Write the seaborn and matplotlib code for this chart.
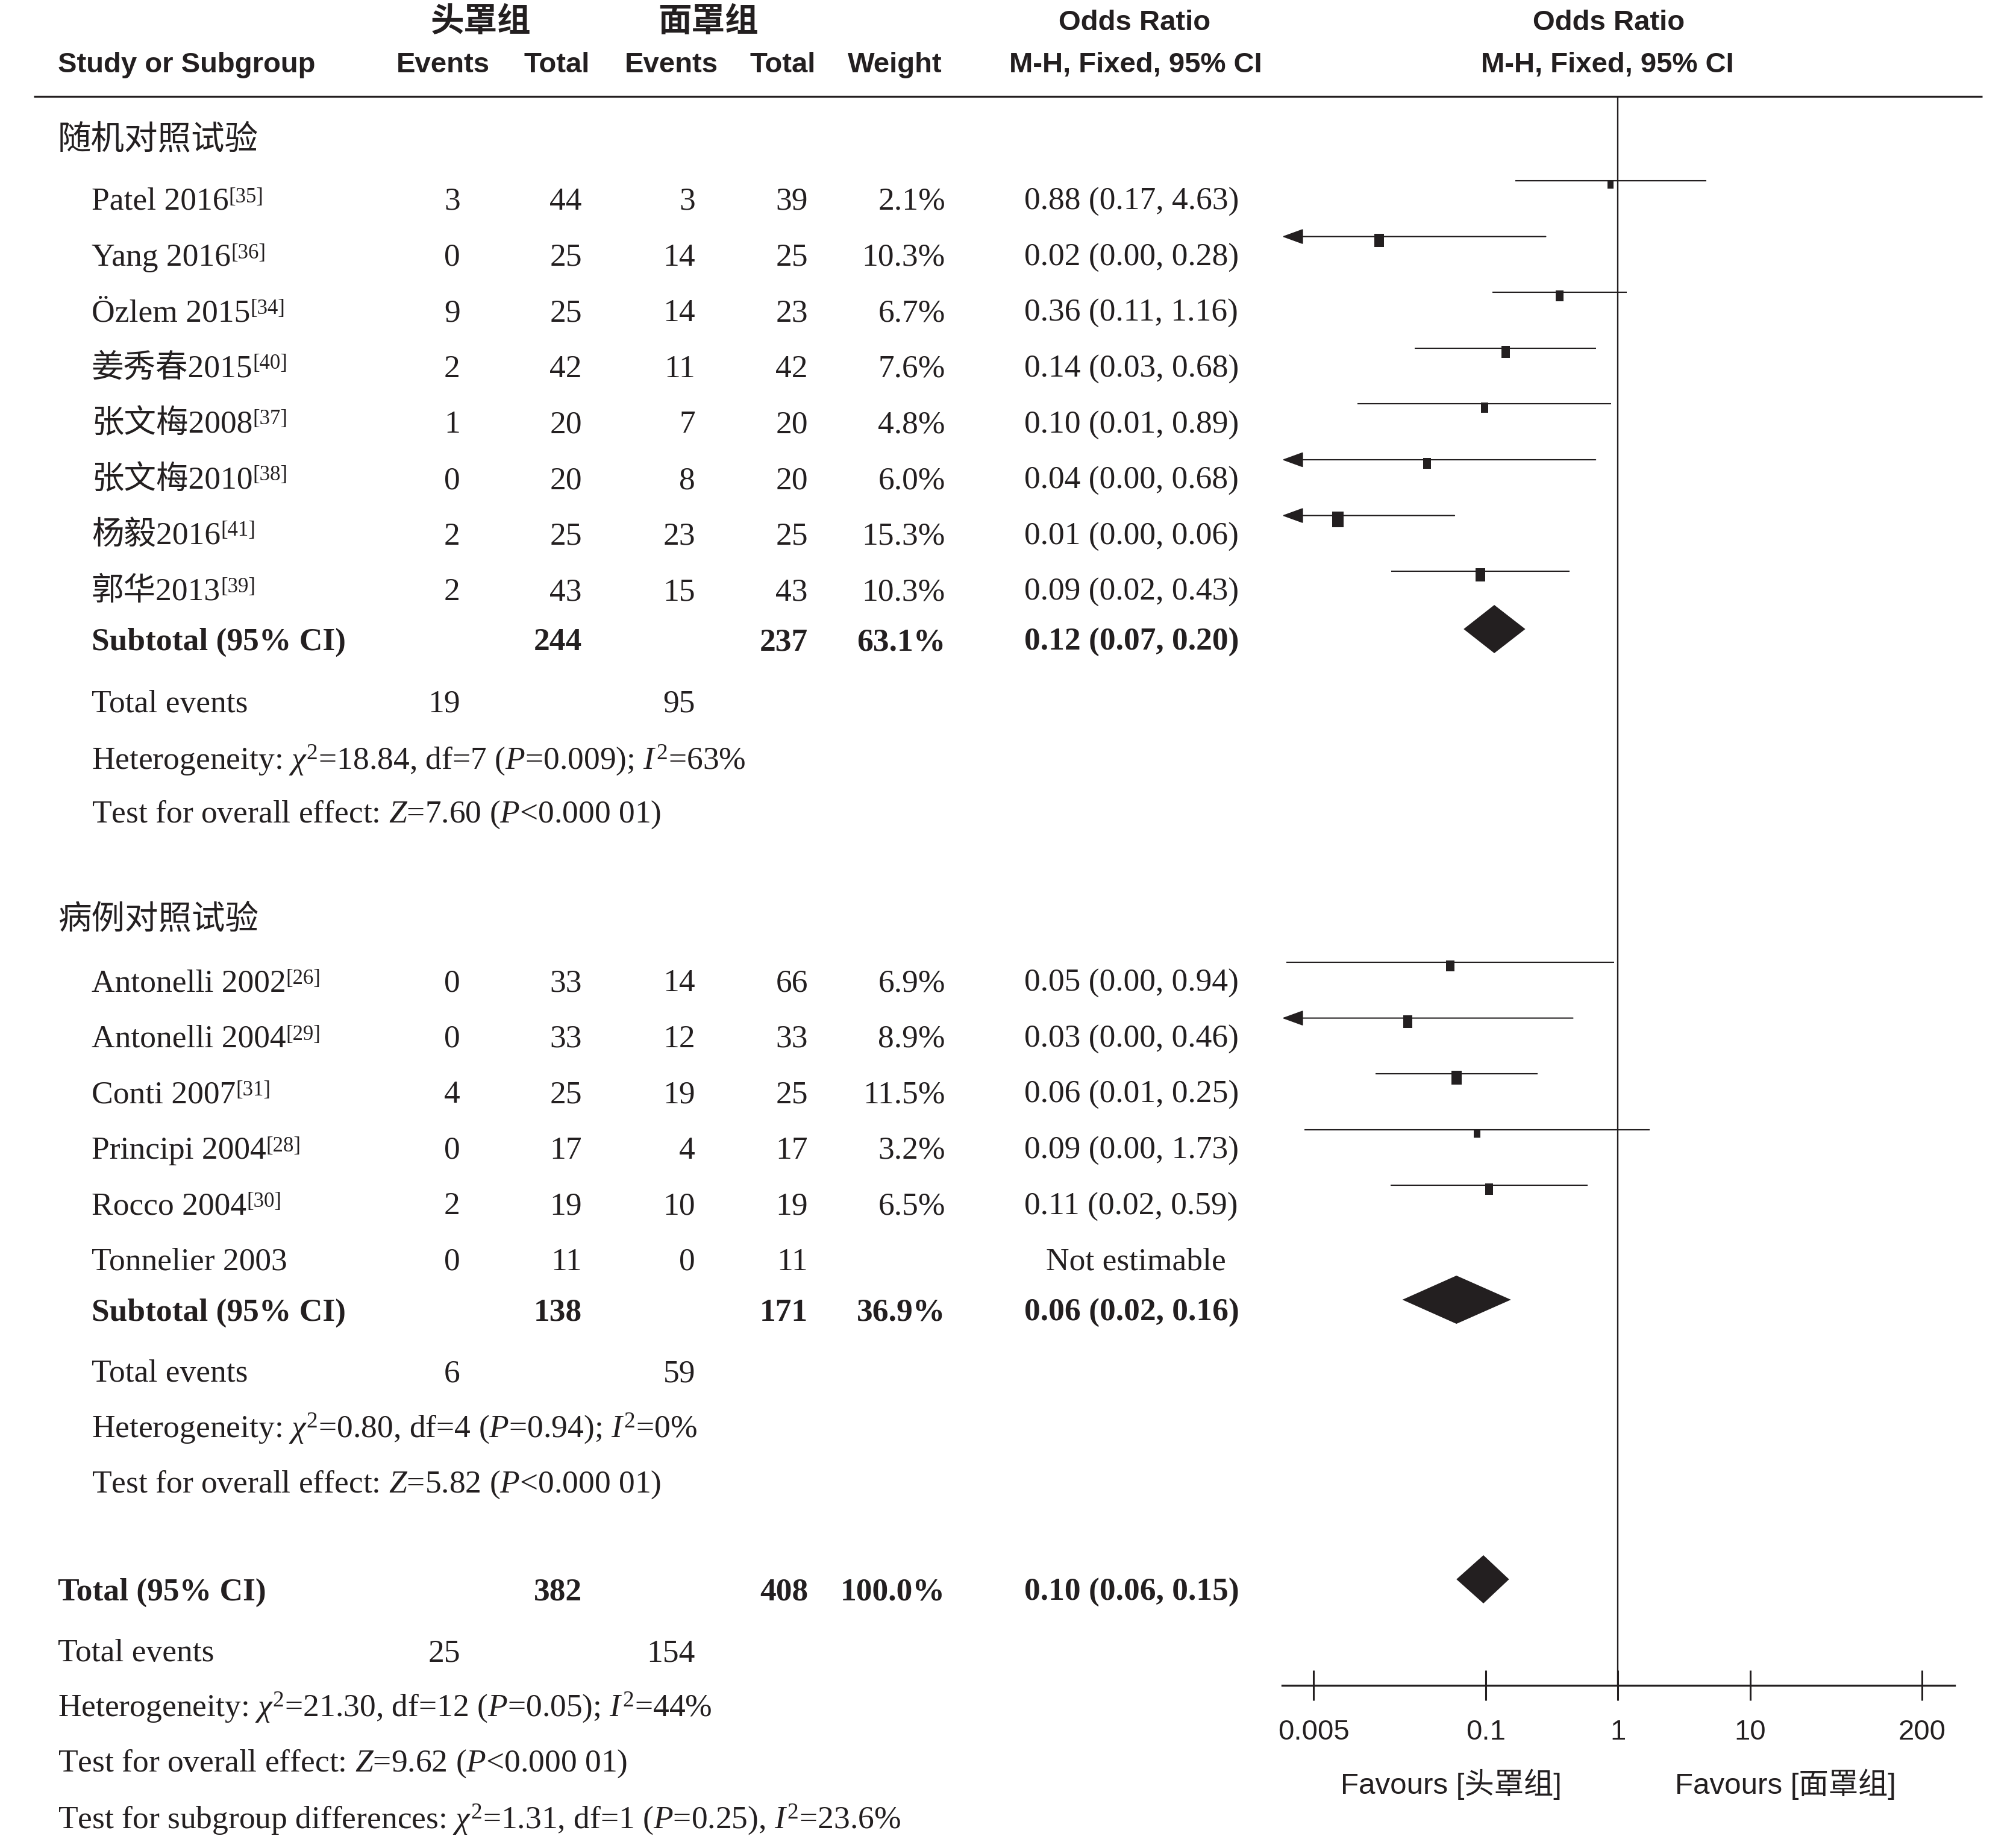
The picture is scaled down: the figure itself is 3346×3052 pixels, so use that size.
import numpy as np
import pandas as pd
import matplotlib
matplotlib.use('Agg')
import matplotlib.pyplot as plt
from matplotlib import font_manager
from matplotlib.path import Path
import seaborn as sns

# ---------------- data ----------------
# subgroup 1: randomised controlled trials
studies_rct = ['Patel 2016', 'Yang 2016', 'Özlem 2015', '姜秀春2015',
               '张文梅2008', '张文梅2010', '杨毅2016', '郭华2013']
refs_rct = ['[35]', '[36]', '[34]', '[40]', '[37]', '[38]', '[41]', '[39]']
ev_helmet_rct = [3, 0, 9, 2, 1, 0, 2, 2]
n_helmet_rct = [44, 25, 25, 42, 20, 20, 25, 43]
ev_mask_rct = [3, 14, 14, 11, 7, 8, 23, 15]
n_mask_rct = [39, 25, 23, 42, 20, 20, 25, 43]
weight_rct = [2.1, 10.3, 6.7, 7.6, 4.8, 6.0, 15.3, 10.3]
or_text_rct = ['0.88 (0.17, 4.63)', '0.02 (0.00, 0.28)', '0.36 (0.11, 1.16)',
               '0.14 (0.03, 0.68)', '0.10 (0.01, 0.89)', '0.04 (0.00, 0.68)',
               '0.01 (0.00, 0.06)', '0.09 (0.02, 0.43)']
or_rct = [0.878, 0.0156, 0.362, 0.141, 0.098, 0.036, 0.0076, 0.091]
lo_rct = [0.167, 0.00085, 0.112, 0.029, 0.0107, 0.0019, 0.00098, 0.0193]
hi_rct = [4.63, 0.284, 1.165, 0.682, 0.891, 0.677, 0.058, 0.430]

# subgroup 2: case-control studies
studies_cc = ['Antonelli 2002', 'Antonelli 2004', 'Conti 2007',
              'Principi 2004', 'Rocco 2004', 'Tonnelier 2003']
refs_cc = ['[26]', '[29]', '[31]', '[28]', '[30]', '']
ev_helmet_cc = [0, 0, 4, 0, 2, 0]
n_helmet_cc = [33, 33, 25, 17, 19, 11]
ev_mask_cc = [14, 12, 19, 4, 10, 0]
n_mask_cc = [66, 33, 25, 17, 19, 11]
weight_cc = [6.9, 8.9, 11.5, 3.2, 6.5, np.nan]
or_text_cc = ['0.05 (0.00, 0.94)', '0.03 (0.00, 0.46)', '0.06 (0.01, 0.25)',
              '0.09 (0.00, 1.73)', '0.11 (0.02, 0.59)', 'Not estimable']
or_cc = [0.054, 0.0257, 0.060, 0.0857, 0.106, np.nan]
lo_cc = [0.00312, 0.00144, 0.0147, 0.00424, 0.019, np.nan]
hi_cc = [0.936, 0.456, 0.246, 1.733, 0.591, np.nan]

# pooled rows: subgroup 1, subgroup 2, overall
pooled_n_helmet = [244, 138, 382]
pooled_n_mask = [237, 171, 408]
pooled_weight = ['63.1%', '36.9%', '100.0%']
pooled_text = ['0.12 (0.07, 0.20)', '0.06 (0.02, 0.16)', '0.10 (0.06, 0.15)']
pooled_or = [0.116, 0.060, 0.096]
pooled_lo = [0.068, 0.0234, 0.060]
pooled_hi = [0.199, 0.155, 0.150]
total_ev_helmet = [19, 6, 25]
total_ev_mask = [95, 59, 154]
het_text = [r'Heterogeneity: $\chi^2$=18.84, df=7 ($P$=0.009); $I^2$=63%',
            r'Heterogeneity: $\chi^2$=0.80, df=4 ($P$=0.94); $I^2$=0%',
            r'Heterogeneity: $\chi^2$=21.30, df=12 ($P$=0.05); $I^2$=44%']
effect_text = [r'Test for overall effect: $Z$=7.60 ($P$<0.000 01)',
               r'Test for overall effect: $Z$=5.82 ($P$<0.000 01)',
               r'Test for overall effect: $Z$=9.62 ($P$<0.000 01)']
subgroup_text = r'Test for subgroup differences: $\chi^2$=1.31, df=1 ($P$=0.25), $I^2$=23.6%'

group_titles = ['随机对照试验', '病例对照试验']
tick_vals = [0.005, 0.1, 1, 10, 200]
tick_labels = ['0.005', '0.1', '1', '10', '200']
favours = ['Favours [头罩组]', 'Favours [面罩组]']

# ---------------- style ----------------
sns.set_theme(style='white')
names = {f.name for f in font_manager.fontManager.ttflist}
NARROW = 'Liberation Sans Narrow' in names
SANS = ['Liberation Sans Narrow' if NARROW else 'Liberation Sans', 'Noto Sans CJK SC']
SERIF = ['Liberation Serif', 'Noto Sans CJK SC']
plt.rcParams['font.family'] = SERIF
plt.rcParams['mathtext.fontset'] = 'custom'
plt.rcParams['mathtext.rm'] = 'Liberation Serif'
plt.rcParams['mathtext.it'] = 'Liberation Serif:italic'
plt.rcParams['mathtext.bf'] = 'Liberation Serif:bold'

INK = '#231f20'
BODY = 38.5
SUP = 25
HEAD = 40 if NARROW else 34
CJK_HEAD = 40
TICK = 40 if NARROW else 34
FAV = 40 if NARROW else 35.5

W, H = 3346, 3052
fig = plt.figure(figsize=(W / 100, H / 100), dpi=100)
ax_t = fig.add_axes([0, 0, 1, 1])
ax_t.set_xlim(0, W)
ax_t.set_ylim(H, 0)
ax_t.axis('off')

# column anchors (pixels)
X_GROUP, X_NAME = 96, 152
X_EV1, X_N1, X_EV2, X_N2, X_W = 764, 966, 1154, 1341, 1569
X_OR, X_OR_C = 1700, 1885
STEP = 92.6


def put(x, y, s, ha='left', bold=False, size=BODY, fam=SERIF):
    return ax_t.text(x, y, s, ha=ha, va='baseline', fontsize=size,
                     fontweight='bold' if bold else 'normal', family=fam, color=INK)


# header
put(798, 52, '头罩组', 'center', True, CJK_HEAD, ['Noto Sans CJK SC'])
put(1175, 52, '面罩组', 'center', True, CJK_HEAD, ['Noto Sans CJK SC'])
put(1883, 50, 'Odds Ratio', 'center', True, HEAD, SANS)
put(2670, 50, 'Odds Ratio', 'center', True, HEAD, SANS)
put(X_GROUP, 120, 'Study or Subgroup', 'left', True, HEAD, SANS)
for xc, s in [(735, 'Events'), (924, 'Total'), (1114, 'Events'), (1299, 'Total'),
              (1485, 'Weight'), (1885, 'M-H, Fixed, 95% CI'), (2668, 'M-H, Fixed, 95% CI')]:
    put(xc, 120, s, 'center', True, HEAD, SANS)
ax_t.plot([56, 3290], [160, 160], color=INK, lw=2.4, solid_capstyle='butt')

# forest axes, y in the same pixel units as the text layer
X0, X1, YT, YB = 2128, 3244, 160, 2797
ax = fig.add_axes([X0 / W, 1 - YB / H, (X1 - X0) / W, (YB - YT) / H])
ax.patch.set_alpha(0)
ax.set_xscale('log')
XMIN, XMAX = 10 ** -2.54, 10 ** 2.545
ax.set_xlim(XMIN, XMAX)
ax.set_ylim(YB, YT)
ax.axvline(1, color=INK, lw=1.7)

groups = [
    (studies_rct, refs_rct, ev_helmet_rct, n_helmet_rct, ev_mask_rct, n_mask_rct,
     weight_rct, or_text_rct, or_rct, lo_rct, hi_rct),
    (studies_cc, refs_cc, ev_helmet_cc, n_helmet_cc, ev_mask_cc, n_mask_cc,
     weight_cc, or_text_cc, or_cc, lo_cc, hi_cc),
]
y_title = [248, 1542]
y_first = [348, 1645]
y_sub = [1079, 2192]
y_te = [1182, 2293]
y_het = [1276, 2385]
y_eff = [1365, 2477]

square_rows = []
for g, (st, rf, e1, n1, e2, n2, wt, ortx, orv, lo, hi) in enumerate(groups):
    ax_t.text(X_GROUP, y_title[g], group_titles[g], ha='left', va='baseline',
              fontsize=40, family=['Noto Sans CJK SC'], color=INK)
    for i in range(len(st)):
        yb = y_first[g] + i * STEP
        t = put(X_NAME, yb, st[i])
        if rf[i]:
            ax_t.annotate(rf[i], xy=(1, 1), xycoords=t, ha='left', va='top',
                          fontsize=SUP, family=SERIF, color=INK)
        put(X_EV1, yb, str(e1[i]), 'right')
        put(X_N1, yb, str(n1[i]), 'right')
        put(X_EV2, yb, str(e2[i]), 'right')
        put(X_N2, yb, str(n2[i]), 'right')
        if np.isfinite(wt[i]):
            put(X_W, yb, f'{wt[i]:.1f}%', 'right')
            put(X_OR, yb, ortx[i])
        else:
            put(X_OR_C, yb, ortx[i], 'center')
            continue
        yl = yb - 48
        if lo[i] < XMIN:
            ax.annotate('', xy=(XMIN, yl), xytext=(hi[i], yl), annotation_clip=False,
                        arrowprops=dict(arrowstyle='-|>,head_length=0.55,head_width=0.2',
                                        mutation_scale=40, color=INK, lw=1.5,
                                        shrinkA=0, shrinkB=0))
        else:
            ax.plot([lo[i], hi[i]], [yl, yl], color=INK, lw=1.5, solid_capstyle='butt')
        square_rows.append({'or': orv[i], 'y': yl + 6, 'weight': wt[i]})

    # subtotal block
    put(X_NAME, y_sub[g], 'Subtotal (95% CI)', bold=True)
    put(X_N1, y_sub[g], str(pooled_n_helmet[g]), 'right', True)
    put(X_N2, y_sub[g], str(pooled_n_mask[g]), 'right', True)
    put(X_W, y_sub[g], pooled_weight[g], 'right', True)
    put(X_OR, y_sub[g], pooled_text[g], bold=True)
    put(X_NAME, y_te[g], 'Total events')
    put(X_EV1, y_te[g], str(total_ev_helmet[g]), 'right')
    put(X_EV2, y_te[g], str(total_ev_mask[g]), 'right')
    put(X_NAME, y_het[g], het_text[g])
    put(X_NAME, y_eff[g], effect_text[g])

# overall block
put(X_GROUP, 2656, 'Total (95% CI)', bold=True)
put(X_N1, 2656, str(pooled_n_helmet[2]), 'right', True)
put(X_N2, 2656, str(pooled_n_mask[2]), 'right', True)
put(X_W, 2656, pooled_weight[2], 'right', True)
put(X_OR, 2656, pooled_text[2], bold=True)
put(X_GROUP, 2757, 'Total events')
put(X_EV1, 2757, str(total_ev_helmet[2]), 'right')
put(X_EV2, 2757, str(total_ev_mask[2]), 'right')
put(X_GROUP, 2848, het_text[2])
put(X_GROUP, 2940, effect_text[2])
put(X_GROUP, 3034, subgroup_text)

# study squares, sized by weight
sq = pd.DataFrame(square_rows)
rect = Path([(-0.37, -0.5), (0.37, -0.5), (0.37, 0.5), (-0.37, 0.5), (-0.37, -0.5)],
            [Path.MOVETO, Path.LINETO, Path.LINETO, Path.LINETO, Path.CLOSEPOLY])
sns.scatterplot(data=sq, x='or', y='y', size='weight', sizes=(88, 350),
                size_norm=(2.1, 15.3), marker=rect, color=INK, linewidth=0,
                legend=False, ax=ax, zorder=3)

# pooled diamonds
for yb, c, lo, hi in zip(y_sub + [2656], pooled_or, pooled_lo, pooled_hi):
    yc = yb - 35
    ax.fill([lo, c, hi, c], [yc, yc - 40, yc, yc + 40], color=INK, lw=0, zorder=3)

ax.set_xlabel('')
ax.set_ylabel('')
ax.set_xlim(XMIN, XMAX)
ax.set_ylim(YB, YT)
ax.set_xticks(tick_vals)
ax.set_xticklabels(tick_labels)
ax.minorticks_off()
for side in ['left', 'right', 'top']:
    ax.spines[side].set_visible(False)
ax.spines['bottom'].set_linewidth(2.4)
ax.spines['bottom'].set_color(INK)
ax.tick_params(axis='x', bottom=True, direction='inout', length=36, width=2.2, color=INK,
               pad=22, labelsize=TICK, labelcolor=INK)
for lab in ax.get_xticklabels():
    lab.set_family(SANS)
ax.tick_params(axis='y', left=False, labelleft=False)

ax_t.text(2408, 2977, favours[0], ha='center', va='baseline', fontsize=FAV, family=SANS, color=INK)
ax_t.text(2963, 2977, favours[1], ha='center', va='baseline', fontsize=FAV, family=SANS, color=INK)

fig.savefig('out.png', dpi=100)
